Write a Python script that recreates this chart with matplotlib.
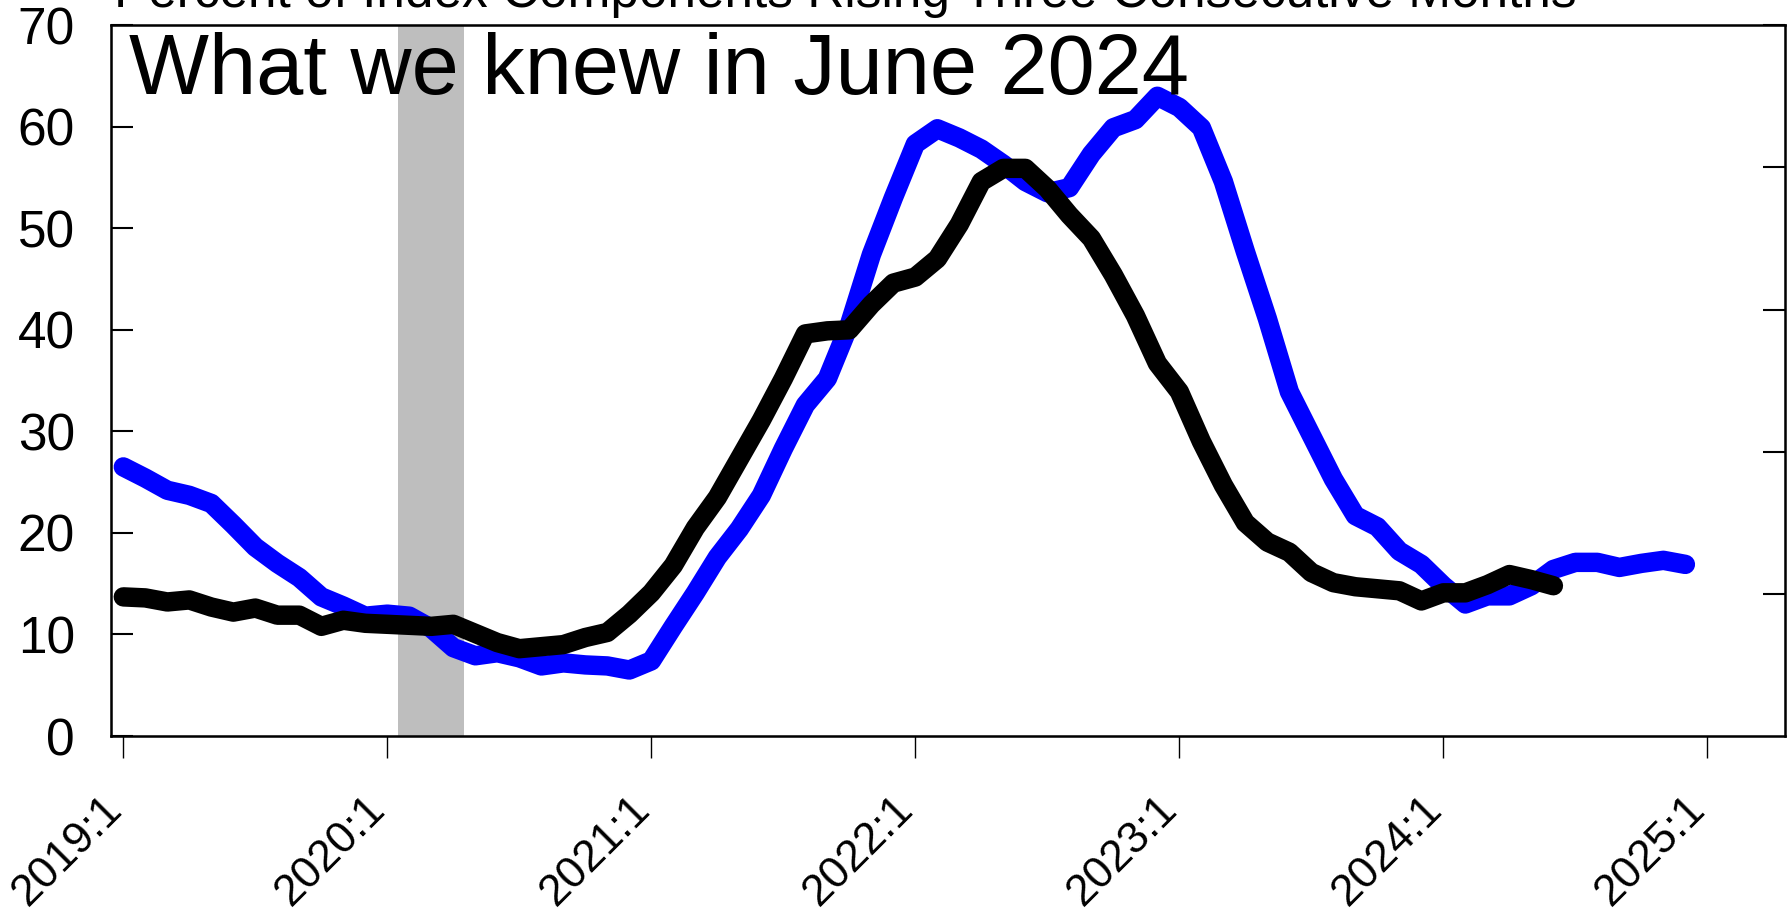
import numpy as np
import pandas as pd
import matplotlib
matplotlib.use("Agg")
import matplotlib.pyplot as plt

plt.rcParams['font.family'] = ['Liberation Sans', 'DejaVu Sans']

# monthly series, both start 2019:1
start = "2019-01"

# current data (blue), 2019:1 - 2024:12
current = [26.5, 25.4, 24.2, 23.7, 22.9, 20.8, 18.6, 17.0, 15.6, 13.7, 12.8, 11.8,
           12.0, 11.8, 10.6, 8.7, 7.9, 8.2, 7.7, 6.9, 7.2, 7.0, 6.9, 6.5,
           7.4, 10.8, 14.1, 17.6, 20.4, 23.7, 28.3, 32.6, 35.2, 40.5, 47.4, 53.0,
           58.3, 59.8, 58.9, 57.8, 56.3, 54.6, 53.5, 54.0, 57.3, 59.9, 60.7, 63.0,
           61.9, 59.9, 54.6, 47.7, 41.1, 33.9, 29.6, 25.3, 21.7, 20.6, 18.2, 16.9,
           14.8, 13.0, 13.8, 13.8, 14.8, 16.4, 17.1, 17.1, 16.6, 17.0, 17.3, 16.9]

# June 2024 vintage (black), 2019:1 - 2024:6
vintage = [13.7, 13.6, 13.2, 13.4, 12.7, 12.2, 12.6, 11.9, 11.9, 10.8, 11.4, 11.1,
           11.0, 10.9, 10.8, 11.0, 10.1, 9.2, 8.6, 8.8, 9.0, 9.7, 10.2, 12.0,
           14.1, 16.8, 20.5, 23.5, 27.3, 31.1, 35.2, 39.6, 39.9, 40.0, 42.5, 44.6,
           45.2, 47.0, 50.4, 54.6, 55.9, 55.9, 53.9, 51.3, 49.0, 45.4, 41.4, 36.7,
           33.9, 29.0, 24.7, 21.0, 19.1, 18.1, 16.1, 15.1, 14.7, 14.5, 14.3, 13.3,
           14.1, 14.1, 14.9, 15.9, 15.4, 14.8]

# recession months (shaded)
rec_start = "2020-02"
rec_end = "2020-04"

xtick_labels = ["2019:1", "2020:1", "2021:1", "2022:1", "2023:1", "2024:1", "2025:1"]
yticks = [0, 10, 20, 30, 40, 50, 60, 70]
right_ticks = [1, 2, 3, 4, 5]

title = "Percent of Index Components Rising Three Consecutive Months"
inset_title = "What we knew in June 2024"


def to_year(period):
    return period.year + (period.month - 1) / 12


p_cur = pd.period_range(start, periods=len(current), freq="M")
p_vin = pd.period_range(start, periods=len(vintage), freq="M")
x_cur = np.array([to_year(p) for p in p_cur])
x_vin = np.array([to_year(p) for p in p_vin])

fig = plt.figure(figsize=(17.92, 9.16), dpi=100)
ax = fig.add_axes([0.0619, 0.1965, 0.9342, 0.776])

r0 = to_year(pd.Period(rec_start, freq="M")) - 0.5 / 12
r1 = to_year(pd.Period(rec_end, freq="M")) + 0.5 / 12
ax.axvspan(r0, r1, color="#BEBEBE", lw=0, zorder=0)

ax.plot(x_cur, current, color="#0000FF", lw=14, solid_capstyle="round",
        solid_joinstyle="round", zorder=2)
ax.plot(x_vin, vintage, color="black", lw=14, solid_capstyle="round",
        solid_joinstyle="round", zorder=3)

ax.set_xlim(2018.953, 2025.294)
ax.set_ylim(0, 70)

ax.set_yticks(yticks)
ax.set_yticklabels([str(v) for v in yticks])
ax.tick_params(axis="y", direction="in", length=16, width=1.5, pad=26,
               labelsize=37)

xt = [int(s.split(":")[0]) for s in xtick_labels]
ax.set_xticks(xt)
ax.set_xticklabels(xtick_labels, rotation=45, ha="right", va="baseline",
                   rotation_mode="anchor")
ax.tick_params(axis="x", direction="out", length=16, width=1, pad=38,
               labelsize=32)

for s in ax.spines.values():
    s.set_linewidth(1.8)

ax2 = ax.twinx()
ax2.set_ylim(0, 5)
ax2.set_yticks(right_ticks)
ax2.tick_params(axis="y", direction="in", length=16, width=1.5,
                labelright=False)

ax.text(0.0108, 0.903, inset_title, transform=ax.transAxes, fontsize=61,
        ha="left", va="baseline", zorder=5)

fig.text(114 / 1792, 1 - 7 / 916, title, fontsize=37, ha="left",
         va="baseline")

fig.savefig("out.png", dpi=100)
